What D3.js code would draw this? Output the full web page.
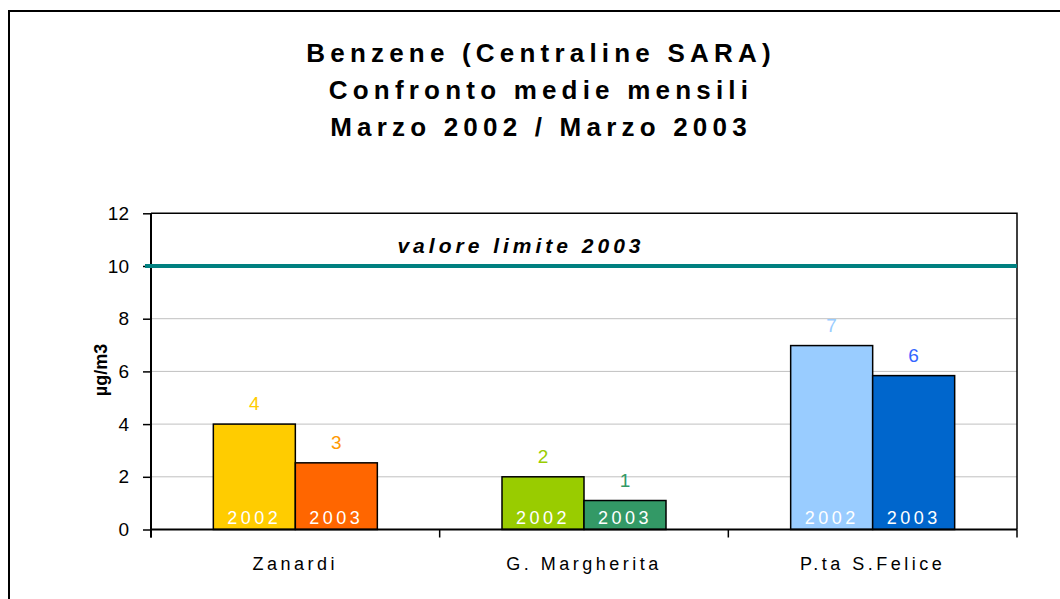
<!DOCTYPE html>
<html><head><meta charset="utf-8">
<script src="https://cdn.jsdelivr.net/npm/d3@7"></script>
<style>body{margin:0;background:#fff}svg{display:block;font-family:"Liberation Sans",Arial,sans-serif}</style>
</head><body><svg id="c" width="1060" height="599"></svg>
<script>
const titleLines = ["Benzene (Centraline SARA)", "Confronto medie mensili", "Marzo 2002 / Marzo 2003"];
const categories = ["Zanardi", "G. Margherita", "P.ta S.Felice"];
const series = ["2002", "2003"];
const values2002 = [4.0, 2.0, 6.98];
const values2003 = [2.53, 1.1, 5.84];
const valueLabels2002 = ["4", "2", "7"];
const valueLabels2003 = ["3", "1", "6"];
const barColors2002 = ["#FFCC00", "#99CC00", "#99CCFF"];
const barColors2003 = ["#FF6600", "#339966", "#0066CC"];
const labelColors2002 = ["#FFCC00", "#99CC00", "#99CCFF"];
const labelColors2003 = ["#FF9900", "#339966", "#3366FF"];
const yTicks = [0, 2, 4, 6, 8, 10, 12];
const limitValue = 10;
const limitLabel = "valore limite 2003";
const yTitle = "µg/m3";

const svg = d3.select("#c");
const L = 151, R = 1017, T = 213.3, B = 529.5;

// outer frame
svg.append("path").attr("d", `M9,599 V11 H1060`).attr("fill","none").attr("stroke","#000").attr("stroke-width",2);

// title
svg.append("g").selectAll("text").data(titleLines).join("text")
  .attr("x", 541).attr("y", (d,i)=>62+i*37).attr("text-anchor","middle")
  .attr("font-size", 26).attr("font-weight","bold").attr("letter-spacing", 5.2).text(d=>d);

const y = d3.scaleLinear().domain([0,12]).range([B,T]);
const x0 = d3.scaleBand().domain(categories).range([L,R]);
const groupW = 164;
const x1 = d3.scaleBand().domain(series).range([0, groupW]);

// gridlines
svg.append("g").selectAll("line").data(yTicks.filter(t=>t>0 && t<12)).join("line")
  .attr("x1",L).attr("x2",R).attr("y1",d=>y(d)).attr("y2",d=>y(d))
  .attr("stroke","#c0c0c0").attr("stroke-width",1);

// plot frame top/right
svg.append("path").attr("d",`M${L},${y(12)} H${R} V${B}`).attr("fill","none").attr("stroke","#000").attr("stroke-width",1.5);

// y axis
const yAxis = d3.axisLeft(y).tickValues(yTicks).tickSize(8).tickPadding(14).tickFormat(d3.format("d"));
const gy = svg.append("g").attr("transform",`translate(${L},0)`).call(yAxis);
gy.select(".domain").attr("stroke","#000").attr("stroke-width",2).attr("d",`M0,${T}V${B+8}`);
gy.selectAll(".tick line").attr("stroke","#000").attr("stroke-width",1.5);
gy.selectAll(".tick text").attr("font-size",19).attr("fill","#000").attr("font-family","Liberation Sans, Arial, sans-serif");

// bars
const data = categories.map((c,i)=>({c, vals:[
  {s:"2002", v:values2002[i], fill:barColors2002[i], lab:valueLabels2002[i], lc:labelColors2002[i]},
  {s:"2003", v:values2003[i], fill:barColors2003[i], lab:valueLabels2003[i], lc:labelColors2003[i]}
]}));
const groups = svg.append("g").selectAll("g").data(data).join("g")
  .attr("transform", d=>`translate(${x0(d.c)+(x0.bandwidth()-groupW)/2},0)`);
groups.selectAll("rect").data(d=>d.vals).join("rect")
  .attr("x", d=>x1(d.s)).attr("width", x1.bandwidth())
  .attr("y", d=>y(d.v)).attr("height", d=>B-y(d.v))
  .attr("fill", d=>d.fill).attr("stroke","#000").attr("stroke-width",1.5);
groups.selectAll("text.val").data(d=>d.vals).join("text").attr("class","val")
  .attr("x", d=>x1(d.s)+x1.bandwidth()/2).attr("y", d=>y(d.v)-14)
  .attr("text-anchor","middle").attr("font-size",19).attr("fill",d=>d.lc).text(d=>d.lab);
groups.selectAll("text.yr").data(d=>d.vals).join("text").attr("class","yr")
  .attr("x", d=>x1(d.s)+x1.bandwidth()/2).attr("y", B-6)
  .attr("text-anchor","middle").attr("font-size",18).attr("letter-spacing",3.5).attr("fill","#fff").text(d=>d.s);

// x axis
svg.append("line").attr("x1",L).attr("x2",R).attr("y1",B).attr("y2",B).attr("stroke","#000").attr("stroke-width",2);
const bounds = categories.map(c=>x0(c)).concat([R]);
svg.append("g").selectAll("line").data(bounds).join("line")
  .attr("x1",d=>d).attr("x2",d=>d).attr("y1",B).attr("y2",B+8).attr("stroke","#000").attr("stroke-width",1.5);
svg.append("g").selectAll("text").data(categories).join("text")
  .attr("x", d=>x0(d)+x0.bandwidth()/2).attr("y", 570).attr("text-anchor","middle")
  .attr("font-size",18).attr("letter-spacing",3.5).text(d=>d);

// limit line
svg.append("line").attr("x1",L-6).attr("x2",R).attr("y1",y(limitValue)).attr("y2",y(limitValue))
  .attr("stroke","#008080").attr("stroke-width",4);
svg.append("text").attr("x",521).attr("y",253).attr("text-anchor","middle")
  .attr("font-size",21).attr("font-weight","bold").attr("font-style","italic").attr("letter-spacing",4).text(limitLabel);

// y title
svg.append("text").attr("transform","translate(107,370) rotate(-90)").attr("text-anchor","middle")
  .attr("font-size",18).attr("font-weight","bold").text(yTitle);
</script></body></html>
